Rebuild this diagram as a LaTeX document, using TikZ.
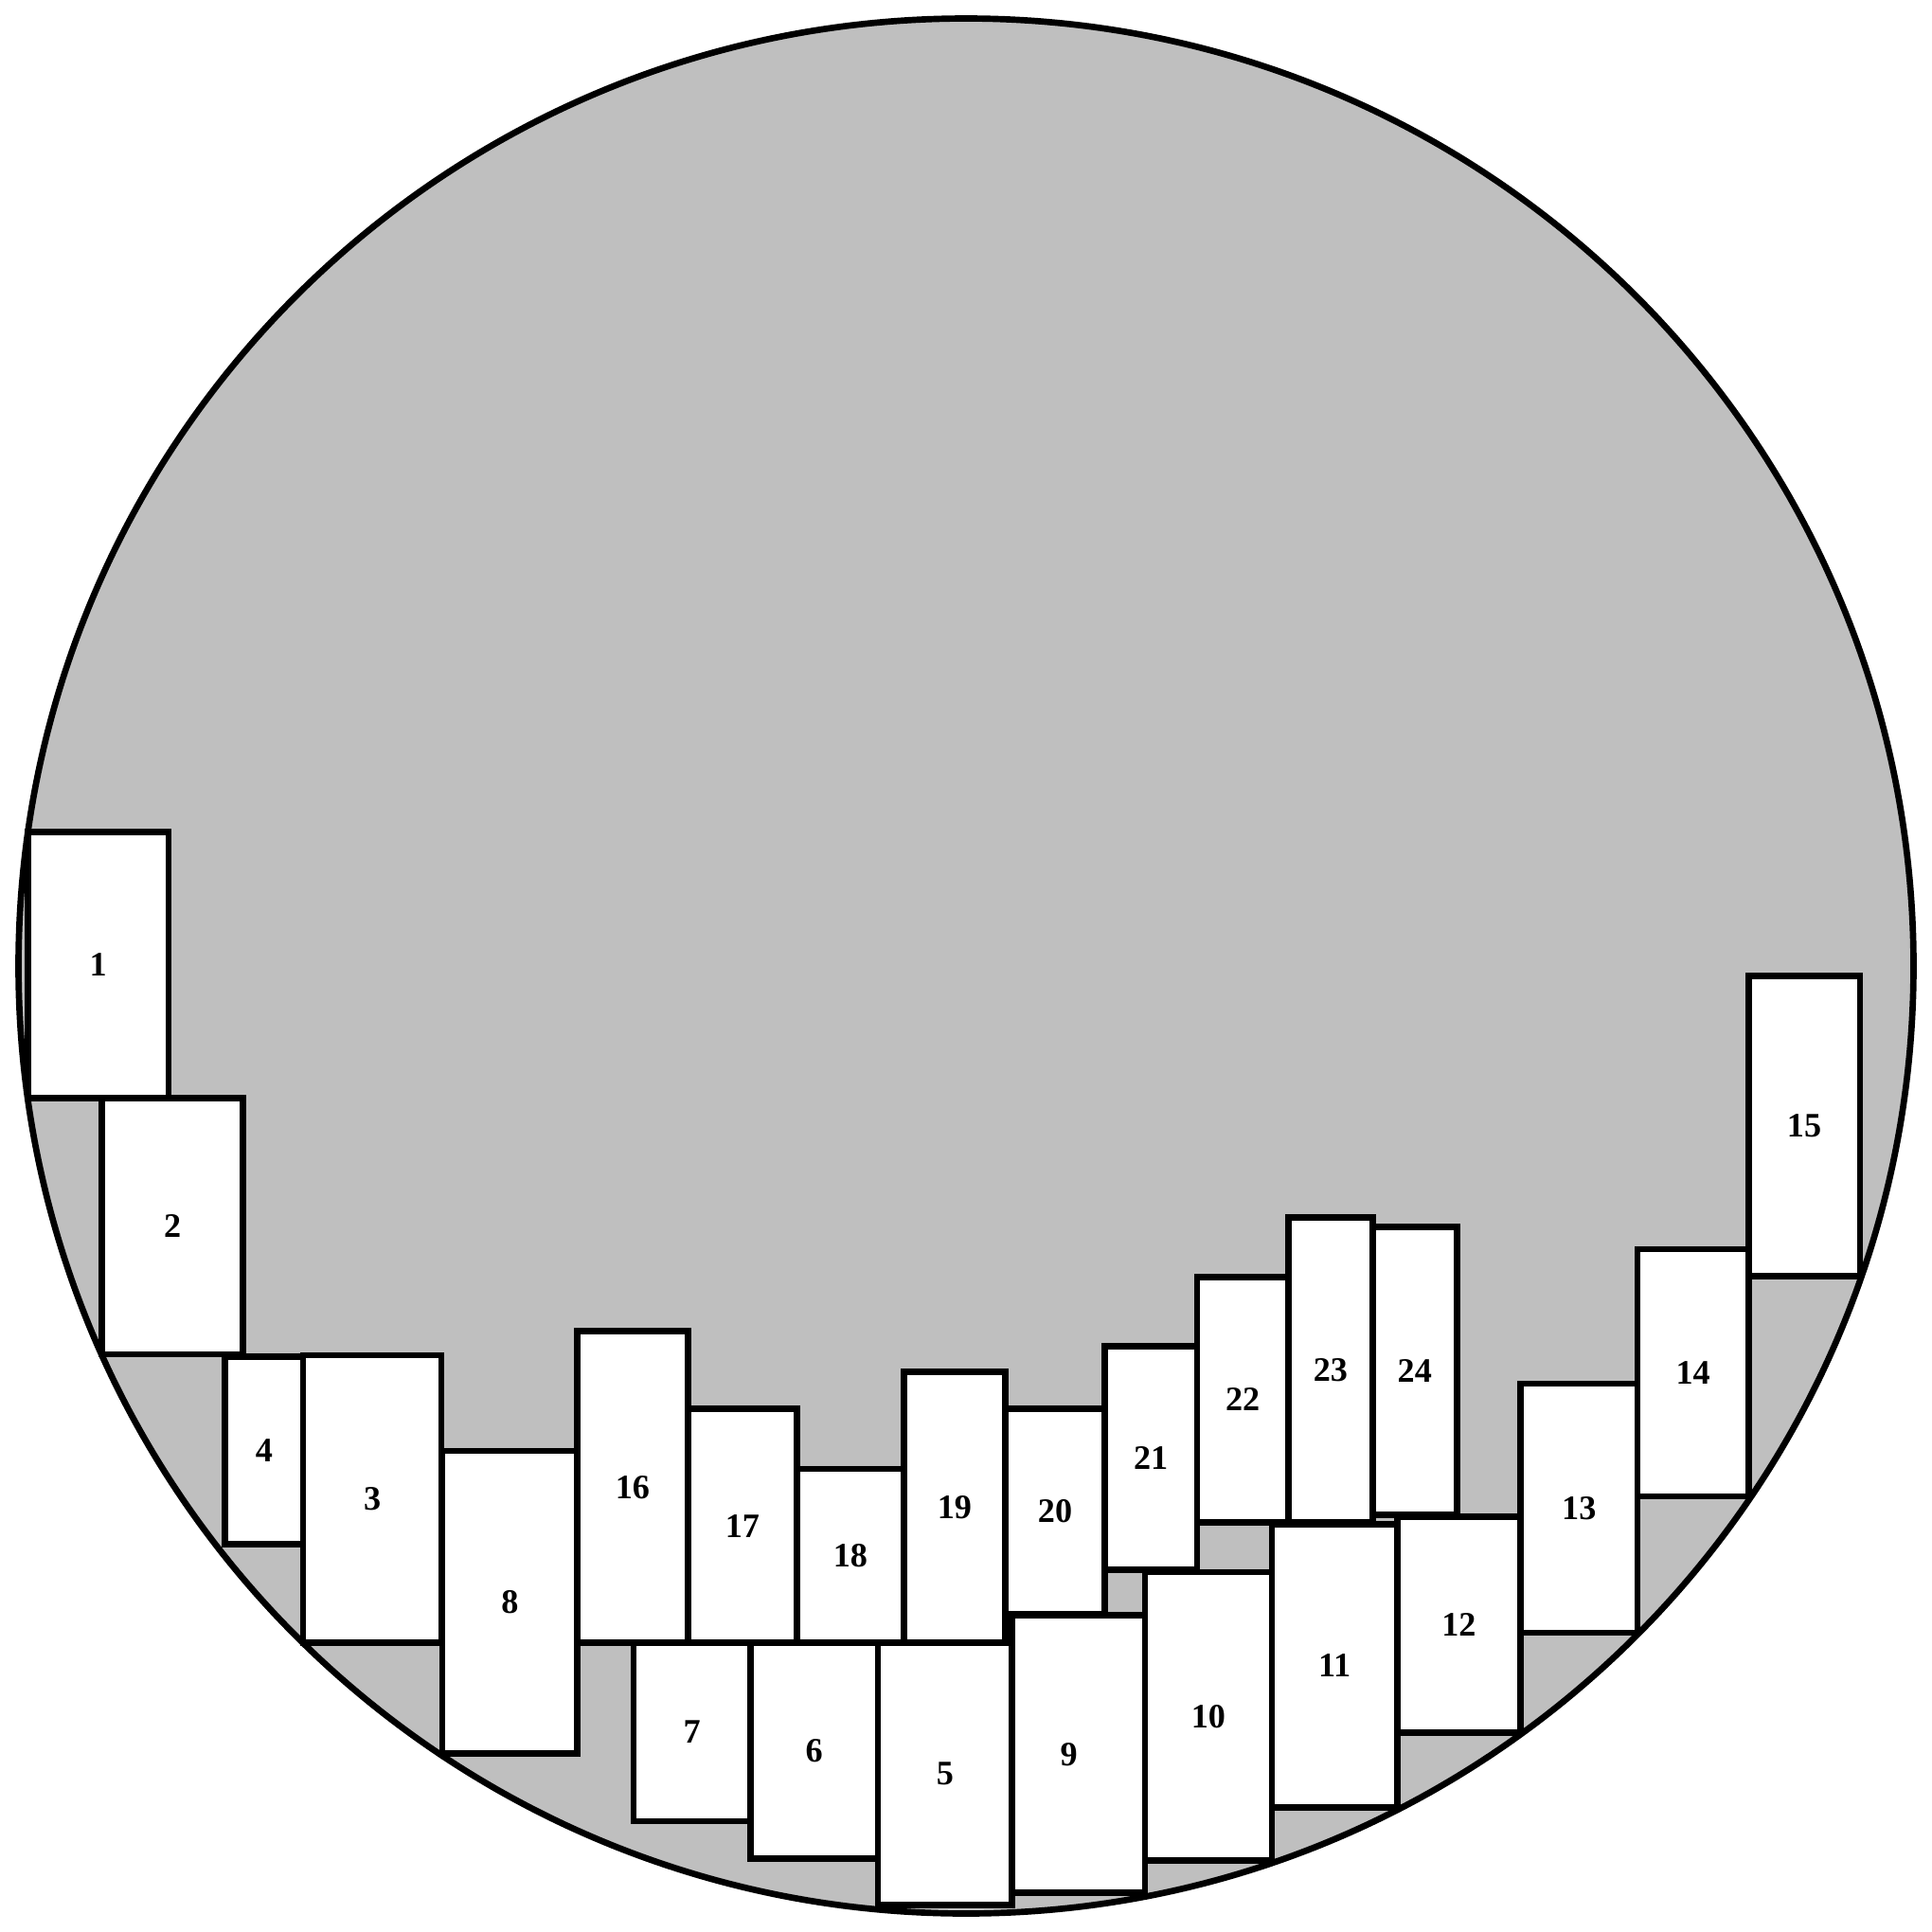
\documentclass[tikz,border=0pt]{standalone}
\usepackage{fontspec}
\setmainfont{Liberation Serif}
\definecolor{discgray}{RGB}{191,191,191}
\tikzset{
  cellbox/.style={draw=black, fill=white, line width=1.9pt, line join=miter},
  celltext/.style={font=\fontsize{10.3}{12}\selectfont\bfseries, inner sep=0pt},
  disc/.style={draw=black, line width=1.9pt}
}
\newcommand\cellrect[5]{%
  \draw[cellbox] (#1,#3) rectangle (#2,#4);
  \node[celltext] (c#5) at ({(#1+#2)/2},{(#3+#4)/2}) {#5};}
\begin{document}
\begin{tikzpicture}[x=0.0130102cm, y=-0.0130102cm]
\useasboundingbox (0,0) rectangle (1568,1568);
\fill[discgray] (784,784) circle (769);
\cellrect{22.7}{136.7}{675.4}{891}{1}
\cellrect{82.7}{197.3}{891}{1099}{2}
\cellrect{182.7}{246}{1101}{1253}{4}
\cellrect{246}{358.3}{1100}{1333}{3}
\cellrect{359}{468.5}{1177.5}{1423}{8}
\cellrect{468.5}{558.2}{1080.5}{1333.4}{16}
\cellrect{558.2}{646.8}{1143.2}{1333.4}{17}
\cellrect{646.8}{733.5}{1192}{1333.4}{18}
\cellrect{733.5}{816}{1113.5}{1333.4}{19}
\cellrect{816}{896.5}{1143.2}{1310}{20}
\cellrect{896.5}{971.6}{1092.6}{1274}{21}
\cellrect{971.6}{1045.6}{1036.4}{1235.4}{22}
\cellrect{1045.6}{1114}{988}{1235.4}{23}
\cellrect{1114}{1182.3}{996}{1229.3}{24}
\cellrect{1234}{1329}{1123}{1325}{13}
\cellrect{1329}{1419}{1013.7}{1214.5}{14}
\cellrect{1419}{1509.5}{792}{1035.6}{15}
\cellrect{514.1}{609}{1333.4}{1478}{7}
\cellrect{609}{712.6}{1333.4}{1508.5}{6}
\cellrect{712.6}{821.5}{1333.4}{1546}{5}
\draw[cellbox] (821.5,1311) rectangle (929.2,1536.3);
\node[celltext] (c9) at (867.5,1424) {9};
\cellrect{929.2}{1032.3}{1276}{1510}{10}
\cellrect{1032.3}{1134}{1237}{1466.7}{11}
\cellrect{1134}{1234}{1231}{1406}{12}
\draw[disc] (784,784) circle (769);
\end{tikzpicture}
\end{document}
